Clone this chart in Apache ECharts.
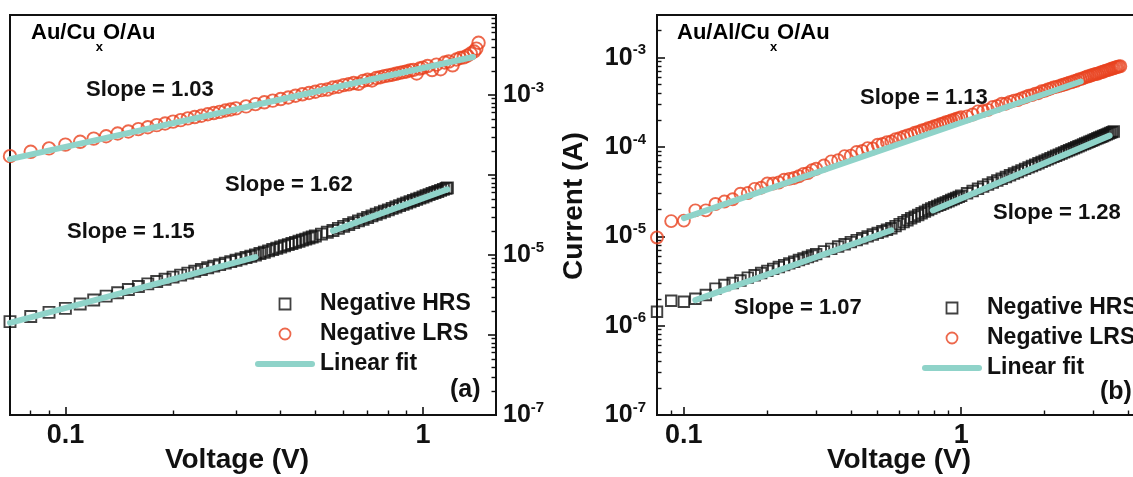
<!DOCTYPE html>
<html>
<head>
<meta charset="utf-8">
<title>I-V log-log fits</title>
<script src="https://cdn.jsdelivr.net/npm/echarts@6/dist/echarts.min.js"></script>
<style>
  html, body { margin: 0; padding: 0; background: #fff; }
  #chart { width: 1133px; height: 477px; }
</style>
</head>
<body>
<div id="chart"></div>
<script>
// ---- panel (a): Au/CuxO/Au ----
const aHrsV = [0.07, 0.08, 0.09, 0.10, 0.11, 0.12, 0.13, 0.14, 0.15, 0.16, 0.17, 0.18, 0.19, 0.20, 0.21, 0.22, 0.23, 0.24, 0.25, 0.26,
  0.27, 0.28, 0.29, 0.30, 0.31, 0.32, 0.33, 0.34, 0.35, 0.36, 0.37, 0.38, 0.39, 0.40, 0.41, 0.42, 0.43, 0.44, 0.45, 0.46,
  0.47, 0.48, 0.49, 0.50, 0.52, 0.54, 0.56, 0.58, 0.60, 0.62, 0.64, 0.66, 0.68, 0.70, 0.72, 0.74, 0.76, 0.78, 0.80, 0.82,
  0.84, 0.86, 0.88, 0.90, 0.92, 0.94, 0.96, 0.98, 1.00, 1.02, 1.04, 1.06, 1.08, 1.10, 1.12, 1.14, 1.16, 1.17];
const aHrsI = [1.47e-6, 1.70e-6, 1.92e-6, 2.15e-6, 2.44e-6, 2.74e-6, 3.06e-6, 3.37e-6, 3.70e-6, 4.04e-6, 4.35e-6, 4.66e-6, 4.98e-6, 5.29e-6,
  5.61e-6, 5.93e-6, 6.26e-6, 6.59e-6, 6.92e-6, 7.25e-6, 7.59e-6, 7.92e-6, 8.26e-6, 8.61e-6, 8.95e-6, 9.30e-6, 9.65e-6, 1.00e-5,
  1.042e-5, 1.084e-5, 1.127e-5, 1.170e-5, 1.214e-5, 1.259e-5, 1.303e-5, 1.349e-5, 1.394e-5, 1.440e-5, 1.487e-5, 1.534e-5,
  1.581e-5, 1.629e-5, 1.677e-5, 1.726e-5, 1.825e-5, 1.924e-5, 2.026e-5, 2.15e-5, 2.28e-5, 2.41e-5, 2.54e-5, 2.67e-5, 2.80e-5,
  2.94e-5, 3.08e-5, 3.23e-5, 3.37e-5, 3.52e-5, 3.67e-5, 3.83e-5, 3.98e-5, 4.14e-5, 4.30e-5, 4.47e-5, 4.63e-5, 4.80e-5, 4.97e-5,
  5.14e-5, 5.32e-5, 5.50e-5, 5.68e-5, 5.86e-5, 6.05e-5, 6.23e-5, 6.42e-5, 6.61e-5, 6.81e-5, 6.90e-5];

const aLrsV = [0.07, 0.08, 0.09, 0.10, 0.11, 0.12, 0.13, 0.14, 0.15, 0.16, 0.17, 0.18, 0.19, 0.20, 0.21, 0.22, 0.23, 0.24, 0.25, 0.26,
  0.27, 0.28, 0.29, 0.30, 0.32, 0.34, 0.36, 0.38, 0.40, 0.42, 0.44, 0.46, 0.48, 0.50, 0.52, 0.54, 0.56, 0.58, 0.60, 0.62,
  0.64, 0.66, 0.68, 0.70, 0.72, 0.74, 0.76, 0.78, 0.80, 0.82, 0.84, 0.86, 0.88, 0.90, 0.92, 0.94, 0.96, 0.98, 1.00,
  1.03, 1.06, 1.09, 1.12, 1.15, 1.18, 1.21, 1.24, 1.27, 1.30, 1.33, 1.36, 1.39, 1.41, 1.43];
const aLrsI = [1.72e-4, 1.95e-4, 2.15e-4, 2.40e-4, 2.60e-4, 2.85e-4, 3.05e-4, 3.30e-4, 3.50e-4, 3.75e-4, 3.95e-4, 4.20e-4, 4.40e-4, 4.65e-4,
  4.85e-4, 5.10e-4, 5.30e-4, 5.50e-4, 5.75e-4, 5.95e-4, 6.15e-4, 6.40e-4, 6.60e-4, 6.80e-4, 7.20e-4, 7.70e-4, 8.10e-4, 8.50e-4,
  8.90e-4, 9.30e-4, 9.80e-4, 1.02e-3, 1.06e-3, 1.10e-3, 1.15e-3, 1.17e-3, 1.24e-3, 1.27e-3, 1.33e-3, 1.36e-3, 1.41e-3, 1.38e-3,
  1.50e-3, 1.55e-3, 1.52e-3, 1.63e-3, 1.67e-3, 1.72e-3, 1.76e-3, 1.79e-3, 1.84e-3, 1.89e-3, 1.93e-3, 1.97e-3, 2.03e-3, 2.06e-3,
  1.86e-3, 2.14e-3, 2.20e-3, 2.30e-3, 2.05e-3, 2.40e-3, 2.10e-3, 2.55e-3, 2.62e-3, 2.35e-3, 2.78e-3, 2.90e-3, 2.95e-3, 3.10e-3,
  3.30e-3, 3.50e-3, 3.80e-3, 4.50e-3];

// linear fits (end points), panel (a)
const aFitLrsV = [0.07, 1.38], aFitLrsI = [1.58e-4, 2.99e-3];
const aFitHrs1V = [0.07, 0.34], aFitHrs1I = [1.42e-6, 9.4e-6];
const aFitHrs2V = [0.56, 1.17], aFitHrs2I = [2.0e-5, 6.6e-5];

// ---- panel (b): Au/Al/CuxO/Au ----
const bV = [0.08, 0.09, 0.10, 0.11, 0.12, 0.13, 0.14, 0.15, 0.16, 0.17, 0.18, 0.19, 0.20, 0.21, 0.22, 0.23, 0.24, 0.25, 0.26, 0.27,
  0.28, 0.29, 0.30, 0.32, 0.34, 0.36, 0.38, 0.40, 0.42, 0.44, 0.46, 0.48, 0.50, 0.52, 0.54, 0.56, 0.58, 0.60, 0.62, 0.64,
  0.66, 0.68, 0.70, 0.72, 0.74, 0.76, 0.78, 0.80, 0.82, 0.84, 0.86, 0.88, 0.90, 0.92, 0.94, 0.96, 0.98, 1.00,
  1.05, 1.10, 1.15, 1.20, 1.25, 1.30, 1.35, 1.40, 1.45, 1.50, 1.55, 1.60, 1.65, 1.70, 1.75, 1.80, 1.85, 1.90, 1.95, 2.00,
  2.05, 2.10, 2.15, 2.20, 2.25, 2.30, 2.35, 2.40, 2.45, 2.50, 2.55, 2.60, 2.65, 2.70, 2.75, 2.80, 2.85, 2.90, 2.95, 3.00,
  3.05, 3.10, 3.15, 3.20, 3.25, 3.30, 3.35, 3.40, 3.45, 3.50, 3.55, 3.60, 3.65, 3.70, 3.75];
const bHrsI = [1.43e-6, 1.90e-6, 1.85e-6, 2.00e-6, 2.20e-6, 2.60e-6, 2.85e-6, 3.00e-6, 3.20e-6, 3.45e-6, 3.66e-6, 3.88e-6, 4.10e-6,
  4.32e-6, 4.54e-6, 4.76e-6, 4.98e-6, 5.20e-6, 5.43e-6, 5.65e-6, 5.87e-6, 6.10e-6, 6.32e-6, 6.78e-6, 7.23e-6, 7.69e-6, 8.14e-6,
  8.60e-6, 9.06e-6, 9.53e-6, 9.99e-6, 1.046e-5, 1.092e-5, 1.139e-5, 1.186e-5, 1.233e-5, 1.30e-5, 1.37e-5, 1.44e-5, 1.51e-5,
  1.59e-5, 1.66e-5, 1.73e-5, 1.81e-5, 1.89e-5, 1.97e-5, 2.05e-5, 2.12e-5, 2.19e-5, 2.26e-5, 2.33e-5, 2.40e-5, 2.47e-5, 2.55e-5,
  2.62e-5, 2.69e-5, 2.76e-5, 2.84e-5, 3.03e-5, 3.22e-5, 3.41e-5, 3.60e-5, 3.80e-5, 4.00e-5, 4.21e-5, 4.41e-5, 4.62e-5, 4.83e-5,
  5.04e-5, 5.25e-5, 5.47e-5, 5.69e-5, 5.91e-5, 6.13e-5, 6.35e-5, 6.58e-5, 6.81e-5, 7.04e-5, 7.27e-5, 7.50e-5, 7.74e-5, 7.97e-5,
  8.21e-5, 8.45e-5, 8.69e-5, 8.94e-5, 9.18e-5, 9.43e-5, 9.68e-5, 9.92e-5, 1.017e-4, 1.043e-4, 1.068e-4, 1.094e-4, 1.119e-4,
  1.145e-4, 1.171e-4, 1.197e-4, 1.223e-4, 1.250e-4, 1.276e-4, 1.303e-4, 1.329e-4, 1.356e-4, 1.383e-4, 1.410e-4, 1.438e-4,
  1.465e-4, 1.492e-4];
const bLrsI = [9.7e-6, 1.48e-5, 1.50e-5, 1.95e-5, 1.95e-5, 2.30e-5, 2.45e-5, 2.60e-5, 3.00e-5, 3.05e-5, 3.40e-5, 3.50e-5, 3.90e-5,
  3.90e-5, 4.00e-5, 4.30e-5, 4.40e-5, 4.50e-5, 4.70e-5, 5.00e-5, 5.10e-5, 5.50e-5, 5.70e-5, 6.20e-5, 6.90e-5, 7.10e-5, 7.90e-5,
  8.00e-5, 8.80e-5, 9.00e-5, 9.70e-5, 9.60e-5, 1.06e-4, 1.08e-4, 1.13e-4, 1.15e-4, 1.22e-4, 1.25e-4, 1.30e-4, 1.35e-4, 1.38e-4,
  1.44e-4, 1.47e-4, 1.53e-4, 1.56e-4, 1.62e-4, 1.65e-4, 1.71e-4, 1.74e-4, 1.80e-4, 1.83e-4, 1.89e-4, 1.92e-4, 1.98e-4, 2.01e-4,
  2.07e-4, 2.10e-4, 2.16e-4, 2.20e-4, 2.31e-4, 2.50e-4, 2.53e-4, 2.60e-4, 2.80e-4, 2.87e-4, 3.05e-4, 3.05e-4, 3.20e-4, 3.30e-4,
  3.35e-4, 3.50e-4, 3.60e-4, 3.75e-4, 3.80e-4, 3.95e-4, 4.00e-4, 4.20e-4, 4.25e-4, 4.40e-4, 4.50e-4, 4.65e-4, 4.70e-4, 4.80e-4,
  4.90e-4, 5.00e-4, 5.10e-4, 5.25e-4, 5.30e-4, 5.45e-4, 5.50e-4, 5.70e-4, 5.75e-4, 5.90e-4, 6.00e-4, 6.15e-4, 6.20e-4, 6.35e-4,
  6.45e-4, 6.55e-4, 6.60e-4, 6.75e-4, 6.85e-4, 6.95e-4, 7.10e-4, 7.20e-4, 7.30e-4, 7.40e-4, 7.55e-4, 7.60e-4, 7.75e-4, 7.85e-4,
  7.95e-4, 8.00e-4];

// linear fits (end points), panel (b)
const bFitLrsV = [0.10, 2.70], bFitLrsI = [1.6e-5, 5.4e-4];
const bFitHrs1V = [0.11, 0.56], bFitHrs1I = [1.93e-6, 1.17e-5];
const bFitHrs2V = [0.79, 3.43], bFitHrs2I = [1.95e-5, 1.34e-4];

// axis ticks / labels
const aXMajor = [0.1, 1];
const aXMinor = [0.08, 0.09, 0.2, 0.3, 0.4, 0.5, 0.6, 0.7, 0.8, 0.9];
const bXMajor = [0.1, 1];
const bXMinor = [0.09, 0.2, 0.3, 0.4, 0.5, 0.6, 0.7, 0.8, 0.9, 2, 3, 4];
const aYMajor = [1e-7, 1e-6, 1e-5, 1e-4, 1e-3, 1e-2];
const aYLabels = [1e-7, 1e-5, 1e-3];
const bYMajor = [1e-7, 1e-6, 1e-5, 1e-4, 1e-3];
const bYLabels = [1e-7, 1e-6, 1e-5, 1e-4, 1e-3];
const minorSteps = [2, 3, 4, 5, 6, 7, 8, 9];

const FONT = '"Liberation Sans", Arial, Helvetica, sans-serif';
const INK = '#111111';
const RED = '#e8421f';
const TEAL = '#8fd3c9';

const pairs = (xs, ys) => ys.map((y, i) => [xs[i], y]);
const minorOf = (majors, top) => {
  const out = [];
  majors.forEach(d => minorSteps.forEach(k => { if (k * d < top) out.push(k * d); }));
  return out;
};
const aYMinor = minorOf(aYMajor, 1e-2);
const bYMinor = minorOf(bYMajor, 3e-3);

const supRich = {
  b: { fontFamily: FONT, fontWeight: 'bold', fontSize: 25, color: INK, lineHeight: 30 },
  s: { fontFamily: FONT, fontWeight: 'bold', fontSize: 15, color: INK, verticalAlign: 'top' }
};
const powLabel = v => '{b|10}{s|' + Math.round(Math.log10(v)) + '}';

const xMain = (grid, min, max, major) => ({
  type: 'log', gridIndex: grid, min: min, max: max, position: 'bottom',
  axisLine: { show: true, lineStyle: { color: INK, width: 2 } },
  axisTick: { show: true, inside: true, length: 8, lineStyle: { color: INK, width: 1.6 }, customValues: major },
  axisLabel: {
    customValues: major, margin: 7, color: INK, fontFamily: FONT, fontWeight: 'bold', fontSize: 27,
    formatter: v => String(v)
  },
  splitLine: { show: false }
});
const xMinorAxis = (grid, min, max, minor) => ({
  type: 'log', gridIndex: grid, min: min, max: max, position: 'bottom',
  axisLine: { show: false },
  axisTick: { show: true, inside: true, length: 4.5, lineStyle: { color: INK, width: 1.4 }, customValues: minor },
  axisLabel: { show: false },
  splitLine: { show: false }
});
const yMain = (grid, min, max, pos, major, labels, margin) => ({
  type: 'log', gridIndex: grid, min: min, max: max, position: pos,
  axisLine: { show: true, lineStyle: { color: INK, width: 2 } },
  axisTick: { show: true, inside: true, length: 8, lineStyle: { color: INK, width: 1.6 }, customValues: major },
  axisLabel: { customValues: labels, margin: margin, formatter: powLabel, rich: supRich },
  splitLine: { show: false }
});
const yMinorAxis = (grid, min, max, pos, minor) => ({
  type: 'log', gridIndex: grid, min: min, max: max, position: pos,
  axisLine: { show: false },
  axisTick: { show: true, inside: true, length: 4.5, lineStyle: { color: INK, width: 1.4 }, customValues: minor },
  axisLabel: { show: false },
  splitLine: { show: false }
});

const hollow = c => ({ color: 'rgba(0,0,0,0)', borderColor: c, borderWidth: 1.9 });
const scatter = (name, axis, data, symbol, size, c) => ({
  name: name, type: 'scatter', xAxisIndex: axis, yAxisIndex: axis, data: data,
  symbol: symbol, symbolSize: size, itemStyle: hollow(c), z: 2, animation: false
});
const fit = (axis, data) => ({
  name: 'Linear fit', type: 'line', xAxisIndex: axis, yAxisIndex: axis, data: data,
  symbol: 'none', lineStyle: { color: TEAL, width: 6, cap: 'round' }, itemStyle: { color: TEAL }, z: 3
});

const legendItems = [
  { name: 'Negative HRS', icon: 'path://M0,0H10V10H0Z', itemStyle: { color: 'rgba(0,0,0,0)', borderColor: INK, borderWidth: 1.8 } },
  { name: 'Negative LRS', icon: 'circle', itemStyle: { color: 'rgba(0,0,0,0)', borderColor: RED, borderWidth: 1.8 } },
  { name: 'Linear fit', icon: 'path://M3,0H57A3,3 0 0 1 57,6H3A3,3 0 0 1 3,0Z', itemStyle: { color: TEAL, borderWidth: 0 } }
];
const legendAt = (left, top) => ({
  left: left, top: top, orient: 'vertical', padding: 0, itemGap: 6, itemWidth: 60, itemHeight: 11,
  selectedMode: false, data: legendItems,
  textStyle: { color: INK, fontFamily: FONT, fontWeight: 'bold', fontSize: 23, lineHeight: 24 }
});

const txt = (x, y, text, size, align) => ({
  type: 'text', x: x, y: y, z: 10,
  style: { text: text, fill: INK, font: 'bold ' + size + 'px ' + FONT, align: align || 'left', verticalAlign: 'middle' }
});
const subRich = {
  m: { fontFamily: FONT, fontWeight: 'bold', fontSize: 22, lineHeight: 26, verticalAlign: 'top', color: INK },
  x: { fontFamily: FONT, fontWeight: 'bold', fontSize: 13, lineHeight: 50, color: INK }
};
const material = (x, y, pre) => ({
  type: 'text', x: x, y: y, z: 10,
  style: { text: '{m|' + pre + '}{x|x}{m|O/Au}', rich: subRich, align: 'left', verticalAlign: 'top' }
});

const chart = echarts.init(document.getElementById('chart'), null, { renderer: 'canvas' });
chart.setOption({
  backgroundColor: '#ffffff',
  animation: false,
  grid: [
    { left: 10, top: 15, width: 486, height: 400, show: true, borderColor: INK, borderWidth: 2, containLabel: false, outerBoundsMode: 'none' },
    { left: 657, top: 15, width: 498, height: 400, show: true, borderColor: INK, borderWidth: 2, containLabel: false, outerBoundsMode: 'none' }
  ],
  xAxis: [
    xMain(0, 0.07, 1.6, aXMajor),
    xMinorAxis(0, 0.07, 1.6, aXMinor),
    xMain(1, 0.08, 5, bXMajor),
    xMinorAxis(1, 0.08, 5, bXMinor)
  ],
  yAxis: [
    yMain(0, 1e-7, 1e-2, 'right', aYMajor, aYLabels, 7),
    yMinorAxis(0, 1e-7, 1e-2, 'right', aYMinor),
    yMain(1, 1e-7, 3e-3, 'left', bYMajor, bYLabels, 11),
    yMinorAxis(1, 1e-7, 3e-3, 'left', bYMinor)
  ],
  legend: [legendAt(255, 292), legendAt(922, 296)],
  series: [
    scatter('Negative HRS', 0, pairs(aHrsV, aHrsI), 'rect', 11, INK),
    scatter('Negative LRS', 0, pairs(aLrsV, aLrsI), 'circle', 12.5, RED),
    fit(0, pairs(aFitLrsV, aFitLrsI)),
    fit(0, pairs(aFitHrs1V, aFitHrs1I)),
    fit(0, pairs(aFitHrs2V, aFitHrs2I)),
    scatter('Negative HRS', 2, pairs(bV, bHrsI), 'rect', 10.5, INK),
    scatter('Negative LRS', 2, pairs(bV, bLrsI), 'circle', 12, RED),
    fit(2, pairs(bFitLrsV, bFitLrsI)),
    fit(2, pairs(bFitHrs1V, bFitHrs1I)),
    fit(2, pairs(bFitHrs2V, bFitHrs2I))
  ],
  graphic: [
    material(31, 22, 'Au/Cu'),
    material(677, 22, 'Au/Al/Cu'),
    txt(86, 90, 'Slope = 1.03', 22),
    txt(225, 185, 'Slope = 1.62', 22),
    txt(67, 232, 'Slope = 1.15', 22),
    txt(860, 98, 'Slope = 1.13', 22),
    txt(993, 213, 'Slope = 1.28', 22),
    txt(734, 308, 'Slope = 1.07', 22),
    txt(450, 390, '(a)', 25),
    txt(1100, 392, '(b)', 25),
    txt(237, 460, 'Voltage (V)', 28, 'center'),
    txt(899, 460, 'Voltage (V)', 28, 'center'),
    { type: 'text', x: 574, y: 206, rotation: Math.PI / 2, z: 10,
      style: { text: 'Current (A)', fill: INK, font: 'bold 28px ' + FONT, align: 'center', verticalAlign: 'middle' } }
  ]
});
</script>
</body>
</html>
